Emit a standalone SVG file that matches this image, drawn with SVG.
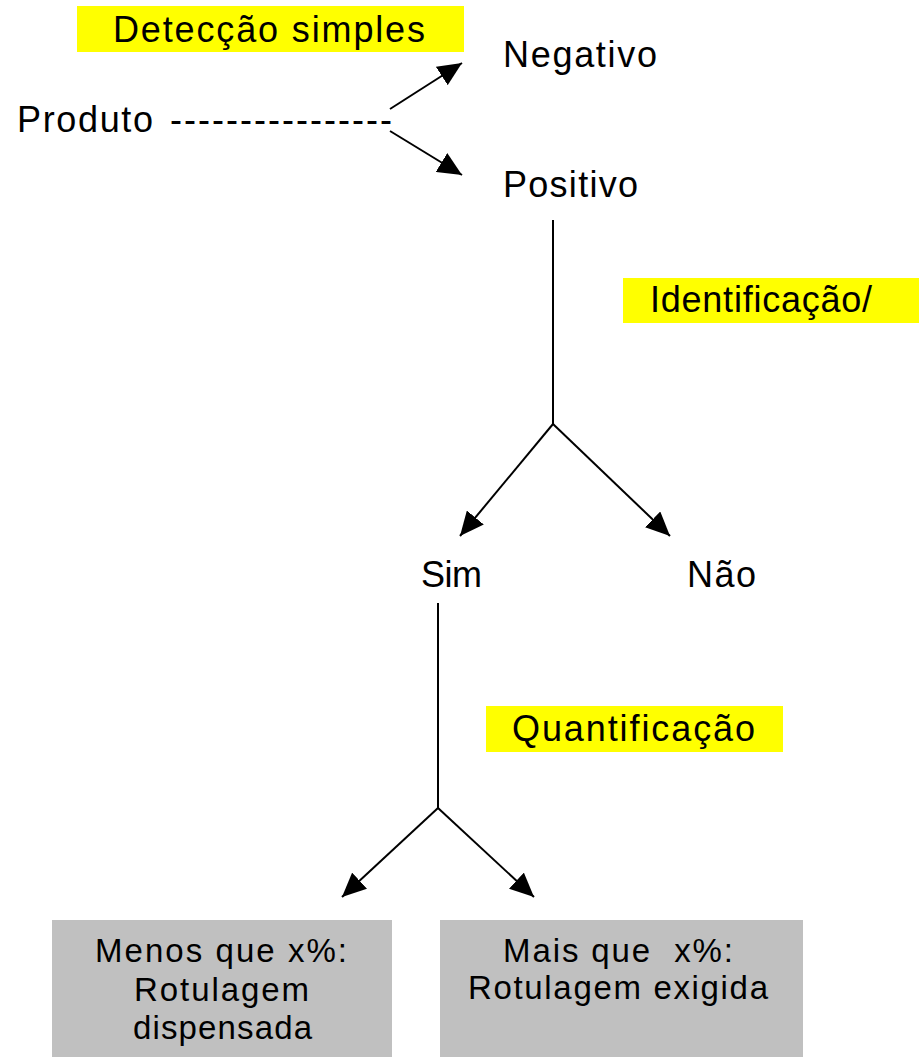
<svg xmlns="http://www.w3.org/2000/svg" width="919" height="1057" viewBox="0 0 919 1057">
<style>
  text { font-family: "Liberation Sans", Arial, sans-serif; font-size: 36px; fill: #000; }
  .box { font-size: 33px; }
  .hl { fill: #ffff00; }
  .gray { fill: #c0c0c0; }
  .conn { stroke: #000; stroke-width: 2; fill: none; marker-end: url(#arrow); }
  .plain { stroke: #000; stroke-width: 2; fill: none; }
</style>
<defs>
  <marker id="arrow" markerUnits="userSpaceOnUse" markerWidth="24" markerHeight="22" refX="24" refY="11" orient="auto">
    <path d="M0,0 L24,11 L0,22 z" fill="#000"/>
  </marker>
</defs>
<rect width="919" height="1057" fill="#fff"/>

<g id="label-deteccao">
  <rect class="hl" x="77" y="6" width="387" height="46"/>
  <text x="113" y="42" textLength="312" lengthAdjust="spacing">Detecção simples</text>
</g>
<g id="node-produto">
  <text x="17" y="132" textLength="136" lengthAdjust="spacing">Produto</text>
  <text x="170" y="132" textLength="222" lengthAdjust="spacing">----------------</text>
</g>
<g id="node-negativo">
  <text x="503" y="67" textLength="154" lengthAdjust="spacing">Negativo</text>
</g>
<g id="node-positivo">
  <text x="503" y="197" textLength="135" lengthAdjust="spacing">Positivo</text>
</g>
<g id="label-identificacao">
  <rect class="hl" x="623" y="278" width="296" height="45"/>
  <text x="650" y="312" textLength="222" lengthAdjust="spacing">Identificação/</text>
</g>
<g id="node-sim">
  <text x="421" y="587" textLength="61" lengthAdjust="spacing">Sim</text>
</g>
<g id="node-nao">
  <text x="687" y="587" textLength="69" lengthAdjust="spacing">Não</text>
</g>
<g id="label-quantificacao">
  <rect class="hl" x="486" y="706" width="297" height="46"/>
  <text x="512" y="741" textLength="243" lengthAdjust="spacing">Quantificação</text>
</g>
<g id="node-menos">
  <rect class="gray" x="52" y="920" width="340" height="137"/>
  <text class="box" x="95" y="962" textLength="252" lengthAdjust="spacing">Menos que x%:</text>
  <text class="box" x="134" y="1001" textLength="175" lengthAdjust="spacing">Rotulagem</text>
  <text class="box" x="133" y="1039" textLength="179" lengthAdjust="spacing">dispensada</text>
</g>
<g id="node-mais">
  <rect class="gray" x="440" y="920" width="363" height="137"/>
  <text class="box" x="503" y="962" textLength="230" lengthAdjust="spacing" xml:space="preserve">Mais que  x%:</text>
  <text class="box" x="468" y="999" textLength="300" lengthAdjust="spacing">Rotulagem exigida</text>
</g>

<g id="connectors">
  <line class="conn" x1="390" y1="109" x2="462" y2="63"/>
  <line class="conn" x1="390" y1="131" x2="462" y2="175"/>
  <line class="plain" x1="553" y1="220" x2="553" y2="424"/>
  <line class="conn" x1="553" y1="424" x2="460" y2="536"/>
  <line class="conn" x1="553" y1="424" x2="670" y2="536"/>
  <line class="plain" x1="438" y1="603" x2="438" y2="808"/>
  <line class="conn" x1="438" y1="808" x2="342" y2="897"/>
  <line class="conn" x1="438" y1="808" x2="534" y2="897"/>
</g>
</svg>
